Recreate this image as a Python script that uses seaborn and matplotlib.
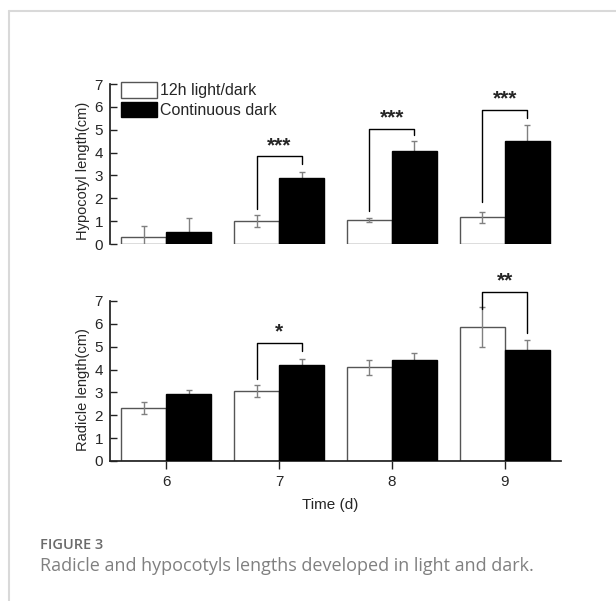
import pandas as pd
import numpy as np
import matplotlib.pyplot as plt
from matplotlib.lines import Line2D
import seaborn as sns

days = ["6", "7", "8", "9"]
conditions = ["12h light/dark", "Continuous dark"]

hypo_light = [0.30, 1.00, 1.05, 1.17]
hypo_light_err = [0.48, 0.26, 0.07, 0.23]
hypo_dark = [0.53, 2.88, 4.05, 4.50]
hypo_dark_err = [0.60, 0.25, 0.47, 0.70]

radi_light = [2.30, 3.05, 4.10, 5.85]
radi_light_err = [0.26, 0.26, 0.33, 0.87]
radi_dark = [2.95, 4.20, 4.42, 4.85]
radi_dark_err = [0.17, 0.25, 0.30, 0.43]

# significance brackets: day index, bracket top, left foot, right foot, label
hypo_sig_day = [1, 2, 3]
hypo_sig_top = [3.83, 5.04, 5.87]
hypo_sig_left = [1.55, 1.43, 1.83]
hypo_sig_right = [3.52, 4.78, 5.52]
hypo_sig_text = ["***", "***", "***"]

radi_sig_day = [1, 3]
radi_sig_top = [5.16, 7.39]
radi_sig_left = [3.59, 6.65]
radi_sig_right = [4.81, 5.60]
radi_sig_text = ["*", "**"]

sns.set_theme(style="ticks")
plt.rcParams["font.family"] = ["Liberation Sans", "DejaVu Sans"]

W, H = 616, 601
fig = plt.figure(figsize=(W / 100, H / 100), dpi=100)
ax_top = fig.add_axes([110 / W, 1 - 244 / H, 451 / W, 160 / H])
ax_bot = fig.add_axes([110 / W, 1 - 461 / H, 451 / W, 160 / H])

edge_gray = "#555555"
err_gray = "#808080"


def make_df(light, dark):
    return pd.DataFrame({
        "day": days * 2,
        "condition": [conditions[0]] * 4 + [conditions[1]] * 4,
        "value": list(light) + list(dark),
    })


def draw_panel(ax, light, light_err, dark, dark_err, sig_day, sig_top, sig_left, sig_right, sig_text):
    df = make_df(light, dark)
    sns.barplot(
        data=df, x="day", y="value", hue="condition", hue_order=conditions,
        order=days, palette={conditions[0]: "white", conditions[1]: "black"},
        errorbar=None, width=0.8, legend=False, ax=ax, saturation=1,
    )
    light_bars, dark_bars = ax.containers[0], ax.containers[1]
    for b in light_bars:
        b.set_edgecolor(edge_gray)
        b.set_linewidth(1.0)
        b.set_zorder(2)
    for b in dark_bars:
        b.set_edgecolor("black")
        b.set_linewidth(1.0)
        b.set_zorder(3)

    lx = [b.get_x() + b.get_width() / 2 for b in light_bars]
    dx = [b.get_x() + b.get_width() / 2 for b in dark_bars]
    ax.errorbar(lx, light, yerr=light_err, fmt="none", ecolor=err_gray,
                elinewidth=1, capsize=2.5, capthick=1, zorder=4)
    ax.errorbar(dx, dark, yerr=dark_err, fmt="none", ecolor=err_gray,
                elinewidth=1, capsize=2.5, capthick=1, zorder=1)

    for d, top, left, right, txt in zip(sig_day, sig_top, sig_left, sig_right, sig_text):
        x0, x1 = lx[d], dx[d]
        ax.plot([x0, x0, x1, x1], [left, top, top, right], color="black",
                lw=1.0, clip_on=False, zorder=5)
        ax.text((x0 + x1) / 2, top + 0.24, txt, ha="center", va="baseline",
                fontsize=15, fontweight="bold", clip_on=False)

    ax.set_xlim(-0.5, 3.5)
    ax.set_ylim(0, 7)
    ax.set_yticks(range(0, 8))
    ax.tick_params(axis="y", direction="in", length=5, width=1, pad=5,
                   labelsize=11, color="#222222")
    for s in ["top", "right"]:
        ax.spines[s].set_visible(False)
    ax.spines["left"].set_color("#222222")
    ax.spines["bottom"].set_color("#222222")
    ax.set_xlabel("")
    return light_bars, dark_bars


lb, db = draw_panel(ax_top, hypo_light, hypo_light_err, hypo_dark, hypo_dark_err,
                    hypo_sig_day, hypo_sig_top, hypo_sig_left, hypo_sig_right, hypo_sig_text)
ax_top.spines["bottom"].set_visible(False)
ax_top.set_xticks([])
ax_top.set_ylabel("Hypocotyl length(cm)", fontsize=10.5)
ax_top.yaxis.set_label_coords(-0.045, 0.455)
ax_top.legend([lb, db], conditions, loc="upper left", bbox_to_anchor=(0.024, 1.01),
              frameon=False, fontsize=11.5, handlelength=2.25, handleheight=1.1,
              handletextpad=0.2, labelspacing=0.2, borderpad=0, borderaxespad=0)

draw_panel(ax_bot, radi_light, radi_light_err, radi_dark, radi_dark_err,
           radi_sig_day, radi_sig_top, radi_sig_left, radi_sig_right, radi_sig_text)
ax_bot.tick_params(axis="x", direction="out", length=6, width=1, pad=4,
                   labelsize=11, color="#222222")
ax_bot.set_ylabel("Radicle length(cm)", fontsize=10.5)
ax_bot.yaxis.set_label_coords(-0.045, 0.445)
ax_bot.set_xlabel("Time (d)", fontsize=11)
ax_bot.xaxis.set_label_coords(0.488, -0.23)

# page frame and caption
frame = "#d9d9d9"
fig.add_artist(Line2D([9 / W, 1], [1 - 11 / H, 1 - 11 / H], color=frame, lw=1.5,
                      transform=fig.transFigure))
fig.add_artist(Line2D([9 / W, 9 / W], [0, 1 - 11 / H], color=frame, lw=1.5,
                      transform=fig.transFigure))
fig.text(40 / W, 1 - 545 / H, "FIGURE 3", fontsize=10.5, color="#6b6b6b",
         va="center", ha="left", family=["Open Sans", "DejaVu Sans"], fontweight="semibold")
fig.text(40 / W, 1 - 566 / H, "Radicle and hypocotyls lengths developed in light and dark.",
         fontsize=13, color="#808080", va="center", ha="left",
         family=["Open Sans", "DejaVu Sans"])

fig.savefig("out.png", dpi=100)
